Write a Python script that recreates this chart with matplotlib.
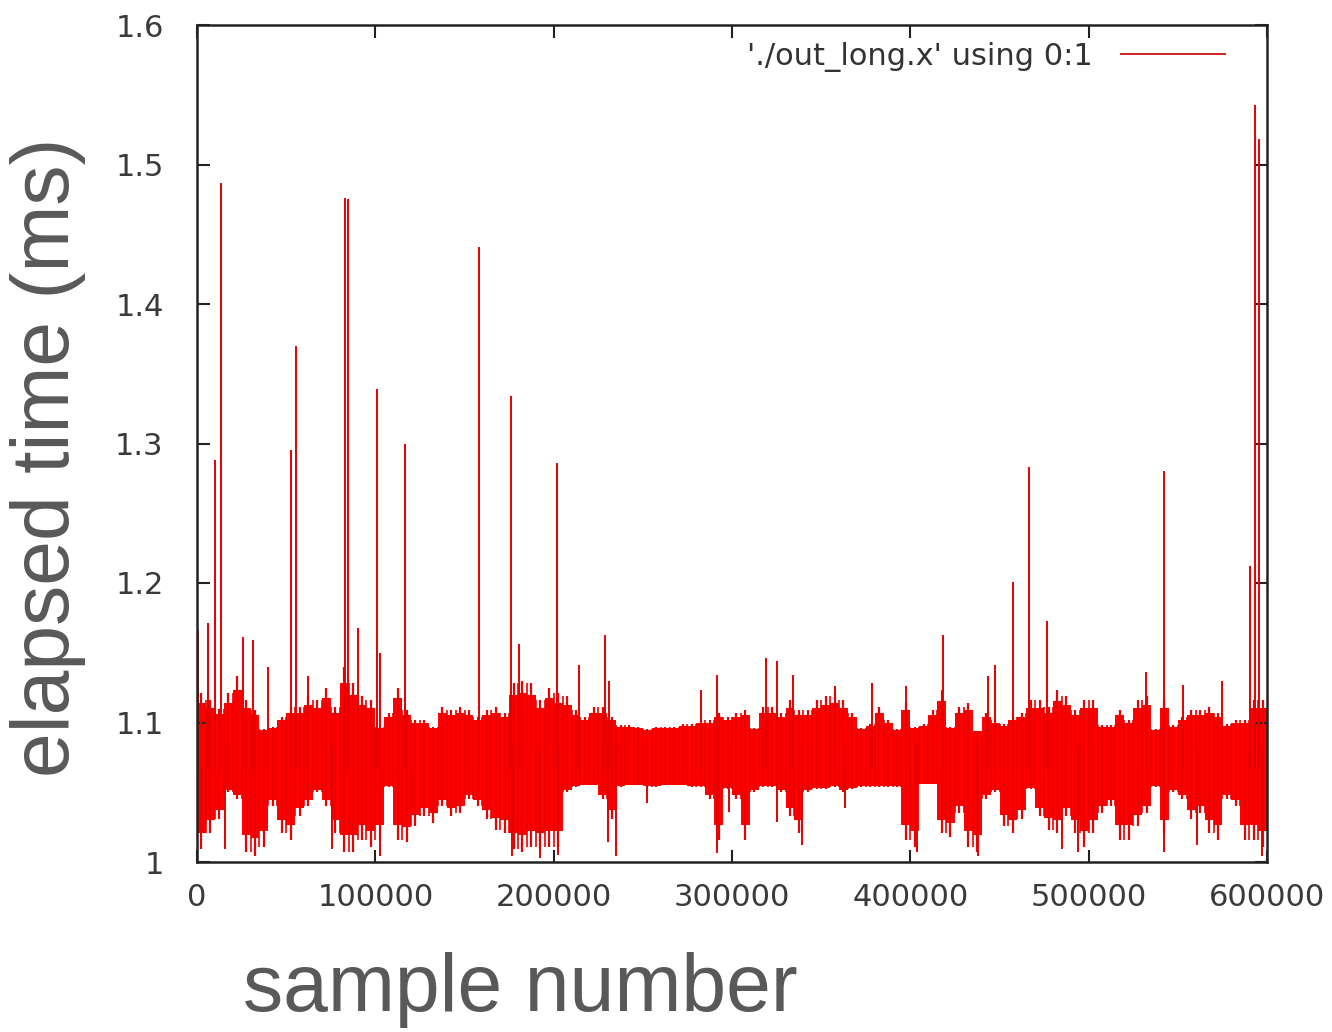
import numpy as np
import matplotlib
matplotlib.use("Agg")
import matplotlib.pyplot as plt

# ---------------- data ----------------
bin_width = 5000  # samples per envelope bin
# upper edge of the dense "grass" per 5000-sample bin (120 bins)
grass_hi = [
    1.121, 1.116, 1.110, 1.121, 1.133, 1.116, 1.109, 1.095, 1.097, 1.104,
    1.111, 1.111, 1.119, 1.116, 1.125, 1.111, 1.140, 1.128, 1.119, 1.116,
    1.097, 1.107, 1.125, 1.109, 1.102, 1.102, 1.097, 1.111, 1.109, 1.111,
    1.109, 1.104, 1.109, 1.111, 1.107, 1.128, 1.130, 1.128, 1.116, 1.125,
    1.121, 1.119, 1.109, 1.104, 1.111, 1.111, 1.104, 1.098, 1.098, 1.097,
    1.095, 1.097, 1.097, 1.097, 1.099, 1.099, 1.102, 1.102, 1.107, 1.104,
    1.107, 1.109, 1.096, 1.111, 1.111, 1.107, 1.116, 1.109, 1.109, 1.116,
    1.119, 1.121, 1.116, 1.107, 1.096, 1.099, 1.111, 1.102, 1.095, 1.114,
    1.097, 1.099, 1.109, 1.123, 1.097, 1.111, 1.114, 1.090, 1.107, 1.102,
    1.099, 1.104, 1.107, 1.116, 1.116, 1.111, 1.123, 1.119, 1.109, 1.116,
    1.116, 1.098, 1.098, 1.109, 1.102, 1.116, 1.119, 1.095, 1.116, 1.098,
    1.104, 1.109, 1.109, 1.111, 1.107, 1.099, 1.102, 1.102, 1.116, 1.116,
]
# lower edge of the dense "grass" per bin
grass_lo = [
    1.009, 1.021, 1.031, 1.050, 1.045, 1.007, 1.004, 1.011, 1.040, 1.021,
    1.016, 1.033, 1.040, 1.050, 1.040, 1.021, 1.007, 1.007, 1.016, 1.011,
    1.016, 1.054, 1.016, 1.014, 1.026, 1.033, 1.028, 1.040, 1.033, 1.035,
    1.045, 1.040, 1.031, 1.023, 1.021, 1.009, 1.007, 1.011, 1.009, 1.011,
    1.011, 1.050, 1.054, 1.055, 1.055, 1.045, 1.031, 1.054, 1.055, 1.055,
    1.054, 1.054, 1.055, 1.055, 1.055, 1.054, 1.054, 1.045, 1.016, 1.052,
    1.045, 1.016, 1.050, 1.054, 1.054, 1.050, 1.033, 1.021, 1.050, 1.052,
    1.052, 1.054, 1.050, 1.052, 1.054, 1.054, 1.054, 1.054, 1.054, 1.016,
    1.011, 1.056, 1.056, 1.021, 1.018, 1.035, 1.011, 1.007, 1.045, 1.050,
    1.026, 1.021, 1.031, 1.052, 1.033, 1.023, 1.021, 1.033, 1.021, 1.011,
    1.021, 1.035, 1.040, 1.016, 1.016, 1.026, 1.035, 1.054, 1.021, 1.050,
    1.045, 1.031, 1.035, 1.021, 1.016, 1.045, 1.040, 1.016, 1.016, 1.011,
]
# solid core of the trace
core_hi = 1.094
core_lo = 1.057

# isolated upward spikes: sample number, peak value (ms)
spike_x = [500, 6200, 10100, 13460, 26000, 31600, 40000, 52700, 55500, 62400,
           83000, 84700, 90300, 100900, 102600, 116600, 158100, 176100, 180800,
           201900, 214200, 228800, 231000, 282600, 291800, 318900, 325400,
           334400, 357800, 378300, 397400, 418500, 443400, 447500, 457600,
           466500, 476600, 532000, 542200, 553100, 574600, 590500, 593300,
           595500]
spike_top = [1.166, 1.171, 1.288, 1.487, 1.161, 1.159, 1.140, 1.295, 1.370,
             1.133, 1.476, 1.475, 1.168, 1.339, 1.150, 1.300, 1.441, 1.334,
             1.156, 1.286, 1.141, 1.163, 1.130, 1.123, 1.134, 1.146, 1.144,
             1.134, 1.126, 1.128, 1.126, 1.163, 1.133, 1.141, 1.201, 1.283,
             1.173, 1.136, 1.280, 1.127, 1.130, 1.212, 1.543, 1.518]

# isolated downward spikes: sample number, lowest value (ms)
dip_x = [15700, 75500, 102600, 176500, 192300, 202600, 230500, 235000, 252500,
         291800, 298300, 325400, 339100, 363400, 403600, 438100, 484900,
         494200, 542200, 560600, 597000]
dip_bottom = [1.009, 1.009, 1.004, 1.004, 1.003, 1.005, 1.014, 1.004, 1.0425,
              1.0065, 1.036, 1.029, 1.012, 1.039, 1.007, 1.004, 1.009, 1.007,
              1.007, 1.012, 1.004]

x_ticks = [0, 100000, 200000, 300000, 400000, 500000, 600000]
y_ticks = [1.0, 1.1, 1.2, 1.3, 1.4, 1.5, 1.6]
legend_label = "'./out_long.x' using 0:1"

# ---------------- drawing ----------------
W, H = 1332, 1032
fig = plt.figure(figsize=(W / 100, H / 100), dpi=100)
ax = fig.add_axes([197 / W, 1 - 862 / H, (1267 - 197) / W, (862 - 25) / H])

red = "#ff0000"
hi = np.asarray(grass_hi)
lo = np.asarray(grass_lo)
centers = np.arange(len(hi)) * bin_width + bin_width / 2
edges = np.arange(len(hi) + 1) * bin_width

# dense (solid) part of the grass: most of the way out to the envelope
solid_frac = 0.75
s_hi = core_hi + solid_frac * np.clip(hi - core_hi, 0, None)
s_lo = core_lo - solid_frac * np.clip(core_lo - lo, 0, None)
ax.fill_between(edges, np.append(s_lo, s_lo[-1]), np.append(s_hi, s_hi[-1]),
                step="post", color=red, linewidth=0)
ax.fill_between([0, 600000], [core_lo, core_lo], [core_hi, core_hi],
                color=red, linewidth=0)
# thin traces reaching the full envelope in each bin
ax.vlines(centers, lo, hi, color="#ec0000", linewidth=1.6)
ax.vlines(edges[1:-1], np.maximum(lo[:-1], lo[1:]), np.minimum(hi[:-1], hi[1:]),
          color="#ec0000", linewidth=1.2)
# isolated spikes
ax.vlines(spike_x, core_lo + 0.01, spike_top, color="#e40000", linewidth=1.4)
ax.vlines(dip_x, dip_bottom, core_hi - 0.01, color="#e40000", linewidth=1.4)

# legend entry (gnuplot style: text then line sample)
ax.plot([], [], color="#d02020", linewidth=1.4, label=legend_label)
leg = ax.legend(loc="upper right", frameon=False, markerfirst=False,
                fontsize=22, handlelength=3.4, handletextpad=0.9,
                borderaxespad=0.15, bbox_to_anchor=(0.976, 1.0))
for t in leg.get_texts():
    t.set_color("#333333")

ax.set_xlim(0, 600000)
ax.set_ylim(1.0, 1.6)
ax.set_xticks(x_ticks)
ax.set_xticklabels([str(v) for v in x_ticks])
ax.set_yticks(y_ticks)
ax.set_yticklabels(["1" if v == 1.0 else f"{v:.1f}" for v in y_ticks])
ax.tick_params(direction="in", length=9, width=1.5, top=True, right=True,
               labelsize=22, labelcolor="#3a3a3a", color="#222222")
ax.tick_params(axis="y", pad=24)
ax.tick_params(axis="x", pad=15)
for s in ax.spines.values():
    s.set_linewidth(1.8)
    s.set_color("#222222")

fig.text(520 / W, 1 - 990 / H, "sample number", fontsize=58,
         family="Liberation Sans", color="#595959", ha="center", va="center")
fig.text(48 / W, 1 - 457 / H, "elapsed time (ms)", fontsize=58,
         family="Liberation Sans", color="#595959", ha="center", va="center",
         rotation=90)

fig.savefig("out.png", dpi=100)
